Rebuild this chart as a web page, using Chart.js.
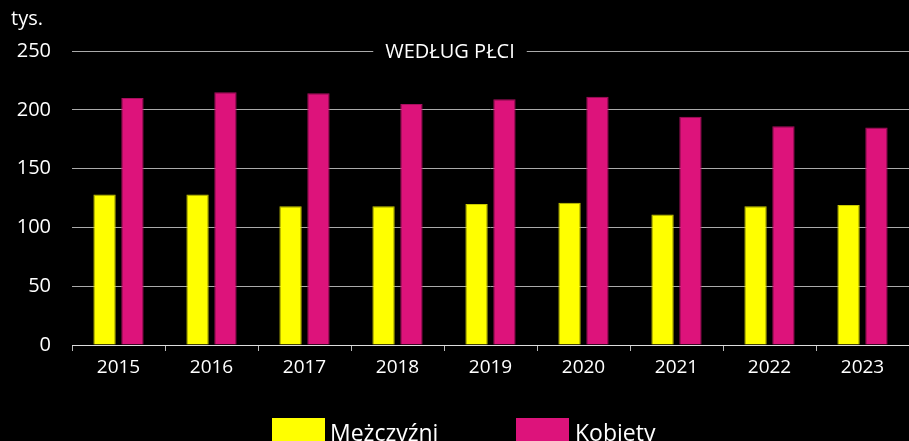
<!DOCTYPE html>
<html><head><meta charset="utf-8">
<script src="https://cdn.jsdelivr.net/npm/chart.js@4/dist/chart.umd.min.js"></script>
<style>html,body{margin:0;padding:0;background:#000;}#wrap{width:909px;height:441px;}</style>
</head><body><div id="wrap"><canvas id="c" width="909" height="441"></canvas></div>
<script>
const categories = ['2015','2016','2017','2018','2019','2020','2021','2022','2023'];
const men = [128, 128, 118, 118, 120, 121, 111, 118, 119];
const women = [210, 215, 214, 205, 209, 211, 194, 186, 185];
const seriesNames = ['Mężczyźni', 'Kobiety'];
const seriesColors = ['#ffff00', '#dd137b'];
const yTicks = [0, 50, 100, 150, 200, 250];
const unitLabel = 'tys.';
const titleText = 'WEDŁUG PŁCI';

const FONT = "'Open Sans', 'Noto Sans', sans-serif";

const overlay = {
  id: 'overlay',
  afterDraw(chart) {
    const ctx = chart.ctx;
    const y = chart.scales.y.getPixelForValue(250);
    ctx.save();
    ctx.font = '20px ' + FONT;
    ctx.fillStyle = '#fff';
    ctx.textBaseline = 'middle';
    ctx.textAlign = 'left';
    ctx.fillText(unitLabel, 11, 19);
    ctx.textAlign = 'center';
    const cx = 450;
    const w = ctx.measureText(titleText).width;
    ctx.fillStyle = '#000';
    ctx.fillRect(cx - w / 2 - 12, y - 12, w + 24, 24);
    ctx.fillStyle = '#fff';
    ctx.fillText(titleText, cx, y + 1);
    // legend
    const items = [{x: 272, tx: 330}, {x: 516, tx: 575}];
    ctx.font = '23px ' + FONT;
    ctx.textAlign = 'left';
    ctx.textBaseline = 'alphabetic';
    items.forEach((it, i) => {
      ctx.fillStyle = seriesColors[i];
      ctx.fillRect(it.x, 418, 53, 24);
      ctx.fillStyle = '#fff';
      ctx.fillText(seriesNames[i], it.tx, 441);
    });
    ctx.restore();
  }
};

new Chart(document.getElementById('c'), {
  type: 'bar',
  data: {
    labels: categories,
    datasets: [
      { label: seriesNames[0], data: men, backgroundColor: seriesColors[0], borderColor: '#c8c800', borderWidth: 1, categoryPercentage: 0.6, barPercentage: 0.8 },
      { label: seriesNames[1], data: women, backgroundColor: seriesColors[1], borderColor: '#a80f5e', borderWidth: 1, categoryPercentage: 0.6, barPercentage: 0.8 }
    ]
  },
  options: {
    responsive: false,
    animation: false,
    layout: { padding: { top: 51, right: 0, left: 0, bottom: 0 } },
    plugins: {
      legend: { display: false },
      tooltip: { enabled: false }
    },
    scales: {
      x: {
        grid: { display: true, drawOnChartArea: false, drawTicks: true, tickLength: 6, color: '#bbb', offset: true },
        border: { color: '#ddd', width: 1 },
        ticks: { color: '#fff', font: { size: 19, family: FONT }, padding: 5 },
        afterFit(s) { s.height = 96; }
      },
      y: {
        min: 0, max: 250,
        afterBuildTicks(s) { s.ticks = yTicks.map(v => ({ value: v })); },
        grid: { color: '#aaa', lineWidth: 1, drawTicks: false },
        border: { display: false },
        ticks: { color: '#fff', font: { size: 20, family: FONT }, padding: 21 },
        afterFit(s) { s.width = 72; }
      }
    }
  },
  plugins: [overlay]
});
</script></body></html>
